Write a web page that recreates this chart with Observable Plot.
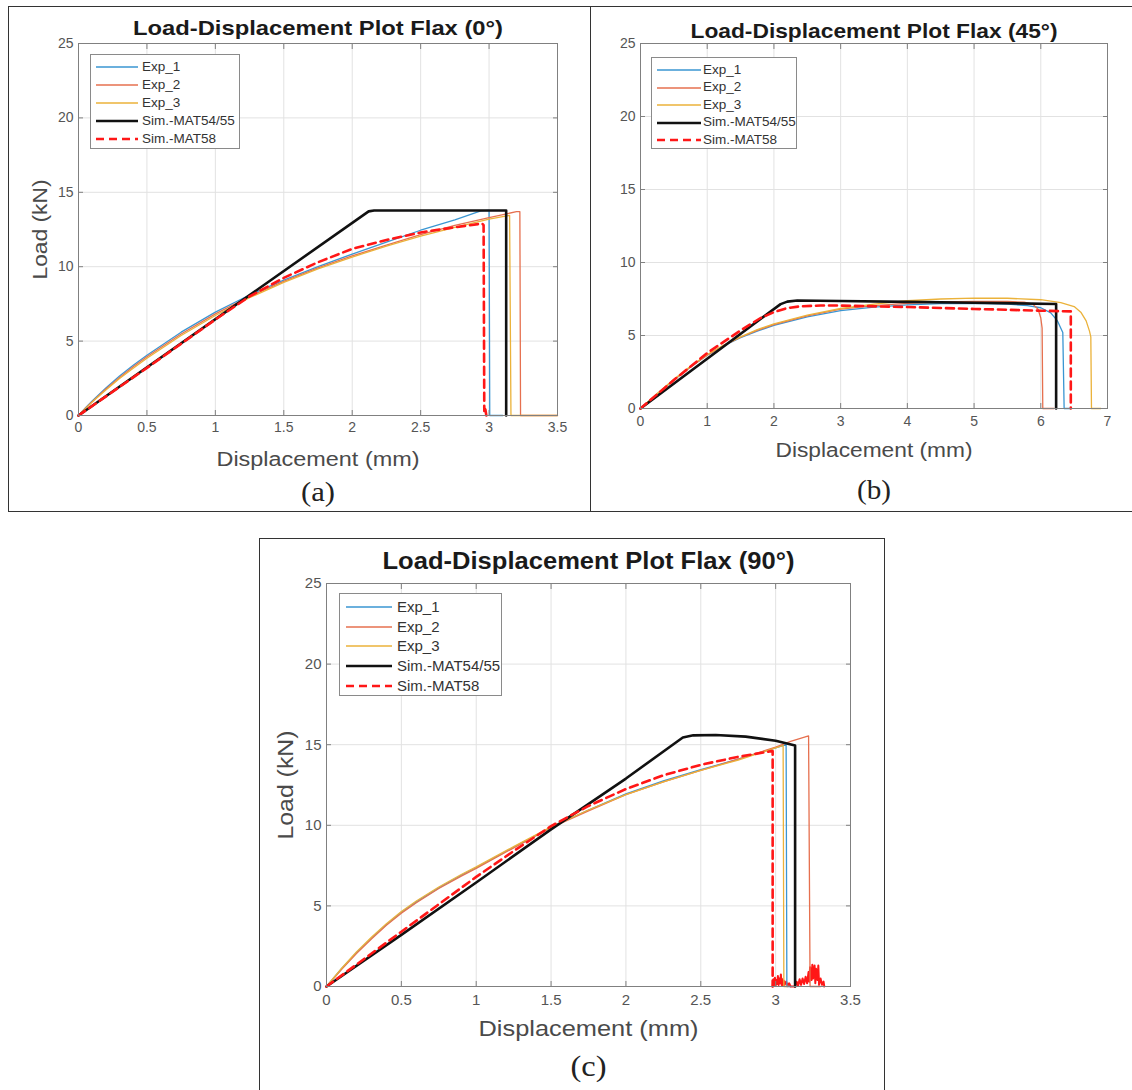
<!DOCTYPE html>
<html>
<head>
<meta charset="utf-8">
<script src="https://cdn.jsdelivr.net/npm/d3@7"></script>
<script src="https://cdn.jsdelivr.net/npm/@observablehq/plot@0.6"></script>
<style>
html,body{margin:0;padding:0;background:#fff;}
body{width:1132px;height:1090px;overflow:hidden;position:relative;font-family:"Liberation Sans",Arial,sans-serif;}
.box{position:absolute;border:1.4px solid #333;box-sizing:border-box;}
.panel{position:absolute;}
.legend{position:absolute;background:#fff;border:1px solid #8a8a8a;box-sizing:border-box;}
</style>
</head>
<body>
<div class="box" style="left:8px;top:6px;width:1140px;height:506px"></div>
<div class="box" style="left:590px;top:6px;width:2px;height:506px;border-width:0 0 0 1.4px"></div>
<div class="box" style="left:259px;top:538px;width:626px;height:560px"></div>
<div id="pa" class="panel" style="left:8px;top:6px;width:582px;height:505px"></div>
<div id="pb" class="panel" style="left:590px;top:6px;width:542px;height:505px"></div>
<div id="pc" class="panel" style="left:259px;top:538px;width:626px;height:552px"></div>
<script>
// ---------- chart text & ticks ----------
const seriesNames = ["Exp_1", "Exp_2", "Exp_3", "Sim.-MAT54/55", "Sim.-MAT58"];
const titles = ["Load-Displacement Plot Flax (0°)", "Load-Displacement Plot Flax (45°)", "Load-Displacement Plot Flax (90°)"];
const captions = ["(a)", "(b)", "(c)"];
const xLabel = "Displacement (mm)";
const yLabel = "Load (kN)";
const yTicks = [0, 5, 10, 15, 20, 25];
const xTicksA = [0, 0.5, 1, 1.5, 2, 2.5, 3, 3.5];
const xTicksB = [0, 1, 2, 3, 4, 5, 6, 7];
const xTicksC = [0, 0.5, 1, 1.5, 2, 2.5, 3, 3.5];

// ---------- panel (a) 0° : [displacement mm, load kN] ----------
const a_exp1 = [[0,0],[0.05,0.5],[0.1,0.98],[0.2,1.85],[0.3,2.65],[0.4,3.38],[0.5,4.05],[0.75,5.6],[1,6.95],[1.25,8.1],[1.5,9.1],[1.75,10.0],[2,10.85],[2.25,11.65],[2.5,12.45],[2.75,13.15],[2.94,13.75],[3.0,13.78],[3.005,0],[3.1,0]];
const a_exp2 = [[0,0],[0.05,0.48],[0.1,0.93],[0.2,1.78],[0.3,2.56],[0.4,3.28],[0.5,3.95],[0.75,5.48],[1,6.83],[1.25,8.0],[1.5,9.02],[1.75,9.92],[2,10.72],[2.25,11.45],[2.5,12.15],[2.75,12.78],[3.0,13.3],[3.2,13.7],[3.225,13.7],[3.23,0],[3.5,0]];
const a_exp3 = [[0,0],[0.05,0.46],[0.1,0.9],[0.2,1.72],[0.3,2.48],[0.4,3.18],[0.5,3.85],[0.75,5.38],[1,6.72],[1.25,7.92],[1.5,8.95],[1.75,9.85],[2,10.65],[2.25,11.38],[2.5,12.05],[2.75,12.65],[3.0,13.2],[3.15,13.45],[3.16,0],[3.5,0]];
const a_sim54 = [[0,0],[2.12,13.72],[2.16,13.78],[3.125,13.78],[3.125,0]];
const a_sim58 = [[0,0],[0.5,3.2],[1,6.45],[1.25,8.0],[1.5,9.25],[1.75,10.3],[2,11.2],[2.25,11.8],[2.5,12.3],[2.75,12.65],[2.95,12.9],[2.96,12.8],[2.965,0.3],[2.97,0.6],[2.98,0]];

// ---------- panel (b) 45° ----------
const b_exp1 = [[0,0],[0.25,1.0],[0.5,1.95],[0.75,2.85],[1,3.65],[1.25,4.3],[1.5,4.85],[1.75,5.3],[2,5.7],[2.5,6.28],[3,6.7],[3.5,6.95],[4,7.1],[4.5,7.18],[5,7.2],[5.5,7.15],[5.8,7.05],[6.0,6.9],[6.15,6.55],[6.25,6.0],[6.33,5.2],[6.35,0],[6.45,0]];
const b_exp2 = [[0,0],[0.25,1.0],[0.5,1.95],[0.75,2.85],[1,3.65],[1.25,4.32],[1.5,4.88],[1.75,5.35],[2,5.75],[2.5,6.35],[3,6.8],[3.5,7.05],[4,7.2],[4.5,7.3],[5,7.33],[5.5,7.33],[5.75,7.28],[5.88,7.15],[5.96,6.8],[6.0,6.2],[6.02,5.5],[6.03,0],[6.2,0]];
const b_exp3 = [[0,0],[0.25,1.02],[0.5,2.0],[0.75,2.9],[1,3.7],[1.25,4.35],[1.5,4.9],[1.75,5.4],[2,5.8],[2.5,6.4],[3,6.85],[3.5,7.15],[4,7.38],[4.5,7.5],[5,7.56],[5.5,7.55],[6,7.45],[6.3,7.25],[6.5,6.98],[6.6,6.6],[6.68,6.0],[6.73,5.3],[6.75,4.9],[6.76,0],[6.9,0]];
const b_sim54 = [[0,0],[2.1,7.15],[2.2,7.32],[2.35,7.4],[3,7.36],[4,7.3],[5,7.24],[6.23,7.16],[6.23,0]];
const b_sim58 = [[0,0],[0.5,1.95],[1,3.8],[1.5,5.35],[1.8,6.2],[2,6.6],[2.2,6.88],[2.4,7.0],[2.7,7.05],[3,7.05],[4,6.95],[5,6.82],[6,6.7],[6.45,6.65],[6.45,0]];

// ---------- panel (c) 90° ----------
const c_exp1 = [[0,0],[0.1,1.1],[0.2,2.1],[0.3,3.0],[0.4,3.85],[0.5,4.6],[0.6,5.25],[0.75,6.12],[0.9,6.9],[1,7.38],[1.25,8.63],[1.5,9.88],[1.75,10.95],[2,11.95],[2.25,12.75],[2.5,13.45],[2.75,14.1],[3.0,14.8],[3.07,15.0],[3.075,0],[3.1,0]];
const c_exp2 = [[0,0],[0.1,1.05],[0.2,2.05],[0.3,2.95],[0.4,3.8],[0.5,4.55],[0.6,5.2],[0.75,6.08],[0.9,6.85],[1,7.33],[1.25,8.6],[1.5,9.85],[1.75,10.9],[2,11.9],[2.25,12.7],[2.5,13.4],[2.75,14.1],[3.0,14.85],[3.1,15.2],[3.22,15.55],[3.23,0],[3.3,0]];
const c_exp3 = [[0,0],[0.1,1.12],[0.2,2.15],[0.3,3.05],[0.4,3.9],[0.5,4.65],[0.6,5.3],[0.75,6.17],[0.9,6.95],[1,7.42],[1.25,8.68],[1.5,9.9],[1.75,10.95],[2,11.9],[2.25,12.7],[2.5,13.4],[2.75,14.05],[3.0,14.8],[3.05,14.95],[3.055,0],[3.08,0]];
const c_sim54 = [[0,0],[0.5,3.2],[1,6.45],[1.5,9.75],[2,12.9],[2.38,15.45],[2.45,15.58],[2.6,15.6],[2.8,15.5],[3.0,15.25],[3.13,14.95],[3.13,0]];
const c_sim58 = [[0,0],[0.5,3.4],[1,6.8],[1.25,8.4],[1.5,9.95],[1.75,11.2],[2,12.25],[2.25,13.1],[2.5,13.75],[2.75,14.25],[2.97,14.6],[2.98,14.6],[2.98,0]];
const c_sim58_tail = [[2.98,0],[2.985,0.45],[2.99,0.1],[2.995,0.55],[3.0,0.05],[3.005,0.4],[3.01,0.15],[3.015,0.65],[3.02,0.1],[3.025,0.5],[3.03,0.2],[3.035,0.75],[3.04,0.1],[3.045,0.45],[3.05,0.05],[3.055,0.35],[3.06,0.1],[3.07,0.3],[3.08,0.05],[3.09,0.2],[3.1,0],[3.13,0],[3.14,0.3],[3.15,0.05],[3.16,0.45],[3.17,0.1],[3.18,0.5],[3.19,0.15],[3.2,0.6],[3.21,0.2],[3.22,0.9],[3.225,0.3],[3.23,1.2],[3.24,0.4],[3.245,1.35],[3.25,0.5],[3.26,1.3],[3.265,0.2],[3.27,1.1],[3.28,0.4],[3.285,1.3],[3.29,0.1],[3.3,0.5],[3.31,0.1],[3.32,0.3],[3.325,0]];

// ---------- styles ----------
const styles = [
  {stroke: "#3a96d2", strokeWidth: 1.3},
  {stroke: "#e6704f", strokeWidth: 1.3},
  {stroke: "#ebb23a", strokeWidth: 1.3},
  {stroke: "#111111", strokeWidth: 2.6},
  {stroke: "#ff1717", strokeWidth: 2.6, strokeDasharray: "8,5"}
];
const RED = "#ff1717";

const rows = pairs => pairs.map(([x, y]) => ({x, y}));

function makePanel(p) {
  const lines = p.series.map((pairs, i) =>
    Plot.line(rows(pairs), {x: "x", y: "y", ...styles[i], strokeLinejoin: "round"}));
  const tail = p.tail ? [Plot.line(rows(p.tail), {x: "x", y: "y", stroke: RED, strokeWidth: 2})] : [];
  const axisStyle = {fontSize: p.tickFs, fill: "#555", label: null};
  const marks = [
    Plot.gridX(p.xTicks, {stroke: "#e2e2e2", strokeOpacity: 1}),
    Plot.gridY(yTicks, {stroke: "#e2e2e2", strokeOpacity: 1}),
    ...tail,
    ...lines,
    Plot.frame({stroke: "#808080"}),
    Plot.axisX(p.xTicks, {anchor: "bottom", tickSize: 0, tickPadding: p.xPad, tickFormat: d => String(d), ...axisStyle}),
    Plot.axisY(yTicks, {anchor: "left", tickSize: 0, tickPadding: 5, tickFormat: d => String(d), ...axisStyle}),
    Plot.axisX(p.xTicks, {anchor: "bottom", tickSize: -5, tickFormat: () => "", label: null, stroke: "#808080"}),
    Plot.axisX(p.xTicks, {anchor: "top", tickSize: -5, tickFormat: () => "", label: null, stroke: "#808080"}),
    Plot.axisY(yTicks, {anchor: "left", tickSize: -5, tickFormat: () => "", label: null, stroke: "#808080"}),
    Plot.axisY(yTicks, {anchor: "right", tickSize: -5, tickFormat: () => "", label: null, stroke: "#808080"}),
    Plot.text([p.title], {frameAnchor: "top", lineAnchor: "middle", dy: p.titleDy, fontSize: p.titleFs, fontWeight: "bold", fill: "#1a1a1a"}),
    Plot.text([xLabel], {frameAnchor: "bottom", lineAnchor: "middle", dy: p.xlabDy, fontSize: p.labFs, fill: "#4a4a4a"}),
    Plot.text([p.caption], {frameAnchor: "bottom", lineAnchor: "middle", dy: p.capDy, fontSize: p.capFs, fontFamily: "Liberation Serif, Times New Roman, serif", fill: "#222"})
  ];
  if (p.showY) {
    marks.push(Plot.text([yLabel], {frameAnchor: "left", textAnchor: "middle", lineAnchor: "middle", dx: p.ylabDx, rotate: -90, fontSize: p.labFs, fill: "#4a4a4a"}));
  }
  const chart = Plot.plot({
    width: p.width, height: p.height,
    marginLeft: p.ml, marginRight: p.mr, marginTop: p.mt, marginBottom: p.mb,
    x: {domain: [0, p.xMax]},
    y: {domain: [0, 25]},
    style: {background: "transparent", fontFamily: "Liberation Sans, Arial, sans-serif", fontSize: "14px", color: "#555", overflow: "visible"},
    marks
  });
  chart.querySelectorAll("text").forEach(t => {
    const s = t.textContent;
    let L = null;
    if (s === p.title) L = p.titleW;
    else if (s === xLabel) L = p.xlabW;
    else if (s === yLabel) L = p.ylabW;
    else if (s === p.caption) L = p.capW;
    if (L) { t.setAttribute("textLength", L); t.setAttribute("lengthAdjust", "spacingAndGlyphs"); }
  });
  document.getElementById(p.id).appendChild(chart);

  // legend (HTML overlay)
  const Lg = p.legend;
  const box = d3.select("body").append("div").attr("class", "legend")
    .style("left", Lg.x + "px").style("top", Lg.y + "px")
    .style("width", Lg.w + "px").style("height", Lg.h + "px");
  seriesNames.forEach((name, i) => {
    const cy = Lg.row0 + i * Lg.dy;
    const sv = box.append("svg").style("position", "absolute")
      .style("left", Lg.lx + "px").style("top", (cy - 5) + "px")
      .attr("width", Lg.lw).attr("height", 10);
    sv.append("line").attr("x1", 0).attr("x2", Lg.lw).attr("y1", 5).attr("y2", 5)
      .attr("stroke", styles[i].stroke).attr("stroke-width", styles[i].strokeWidth)
      .attr("stroke-dasharray", styles[i].strokeDasharray || null);
    box.append("div").style("position", "absolute")
      .style("left", Lg.tx + "px").style("top", (cy - Lg.fs * 0.6) + "px")
      .style("font-size", Lg.fs + "px").style("line-height", (Lg.fs * 1.2) + "px")
      .style("color", "#333").style("white-space", "nowrap").text(name);
  });
}

makePanel({
  id: "pa", width: 582, height: 505, ml: 70, mr: 33, mt: 37, mb: 96,
  xMax: 3.5, xTicks: xTicksA, series: [a_exp1, a_exp2, a_exp3, a_sim54, a_sim58],
  title: titles[0], caption: captions[0], showY: true,
  tickFs: 14, xPad: 7, titleFs: 21, titleW: 370, titleDy: -15,
  labFs: 20, xlabW: 203, xlabDy: 44, ylabW: 100, ylabDx: -38,
  capFs: 27, capW: 34, capDy: 77,
  legend: {x: 90, y: 54, w: 150, h: 95, row0: 12, dy: 18, lx: 5, lw: 42, tx: 51, fs: 13.5}
});
makePanel({
  id: "pb", width: 542, height: 505, ml: 50, mr: 25, mt: 37, mb: 103,
  xMax: 7, xTicks: xTicksB, series: [b_exp1, b_exp2, b_exp3, b_sim54, b_sim58],
  title: titles[1], caption: captions[1], showY: false,
  tickFs: 14, xPad: 8, titleFs: 21, titleW: 367, titleDy: -12,
  labFs: 20, xlabW: 197, xlabDy: 42,
  capFs: 27, capW: 34, capDy: 82,
  legend: {x: 651, y: 57, w: 146, h: 92, row0: 12, dy: 17.5, lx: 5, lw: 44, tx: 51, fs: 13.5}
});
makePanel({
  id: "pc", width: 626, height: 552, ml: 67, mr: 35, mt: 45, mb: 104,
  xMax: 3.5, xTicks: xTicksC, series: [c_exp1, c_exp2, c_exp3, c_sim54, c_sim58], tail: c_sim58_tail,
  title: titles[2], caption: captions[2], showY: true,
  tickFs: 15, xPad: 8, titleFs: 23, titleW: 412, titleDy: -22,
  labFs: 22, xlabW: 220, xlabDy: 42, ylabW: 109, ylabDx: -41,
  capFs: 29, capW: 36, capDy: 80,
  legend: {x: 339, y: 593, w: 163, h: 103, row0: 13, dy: 19.7, lx: 6, lw: 46, tx: 57, fs: 15}
});
</script>
</body>
</html>
